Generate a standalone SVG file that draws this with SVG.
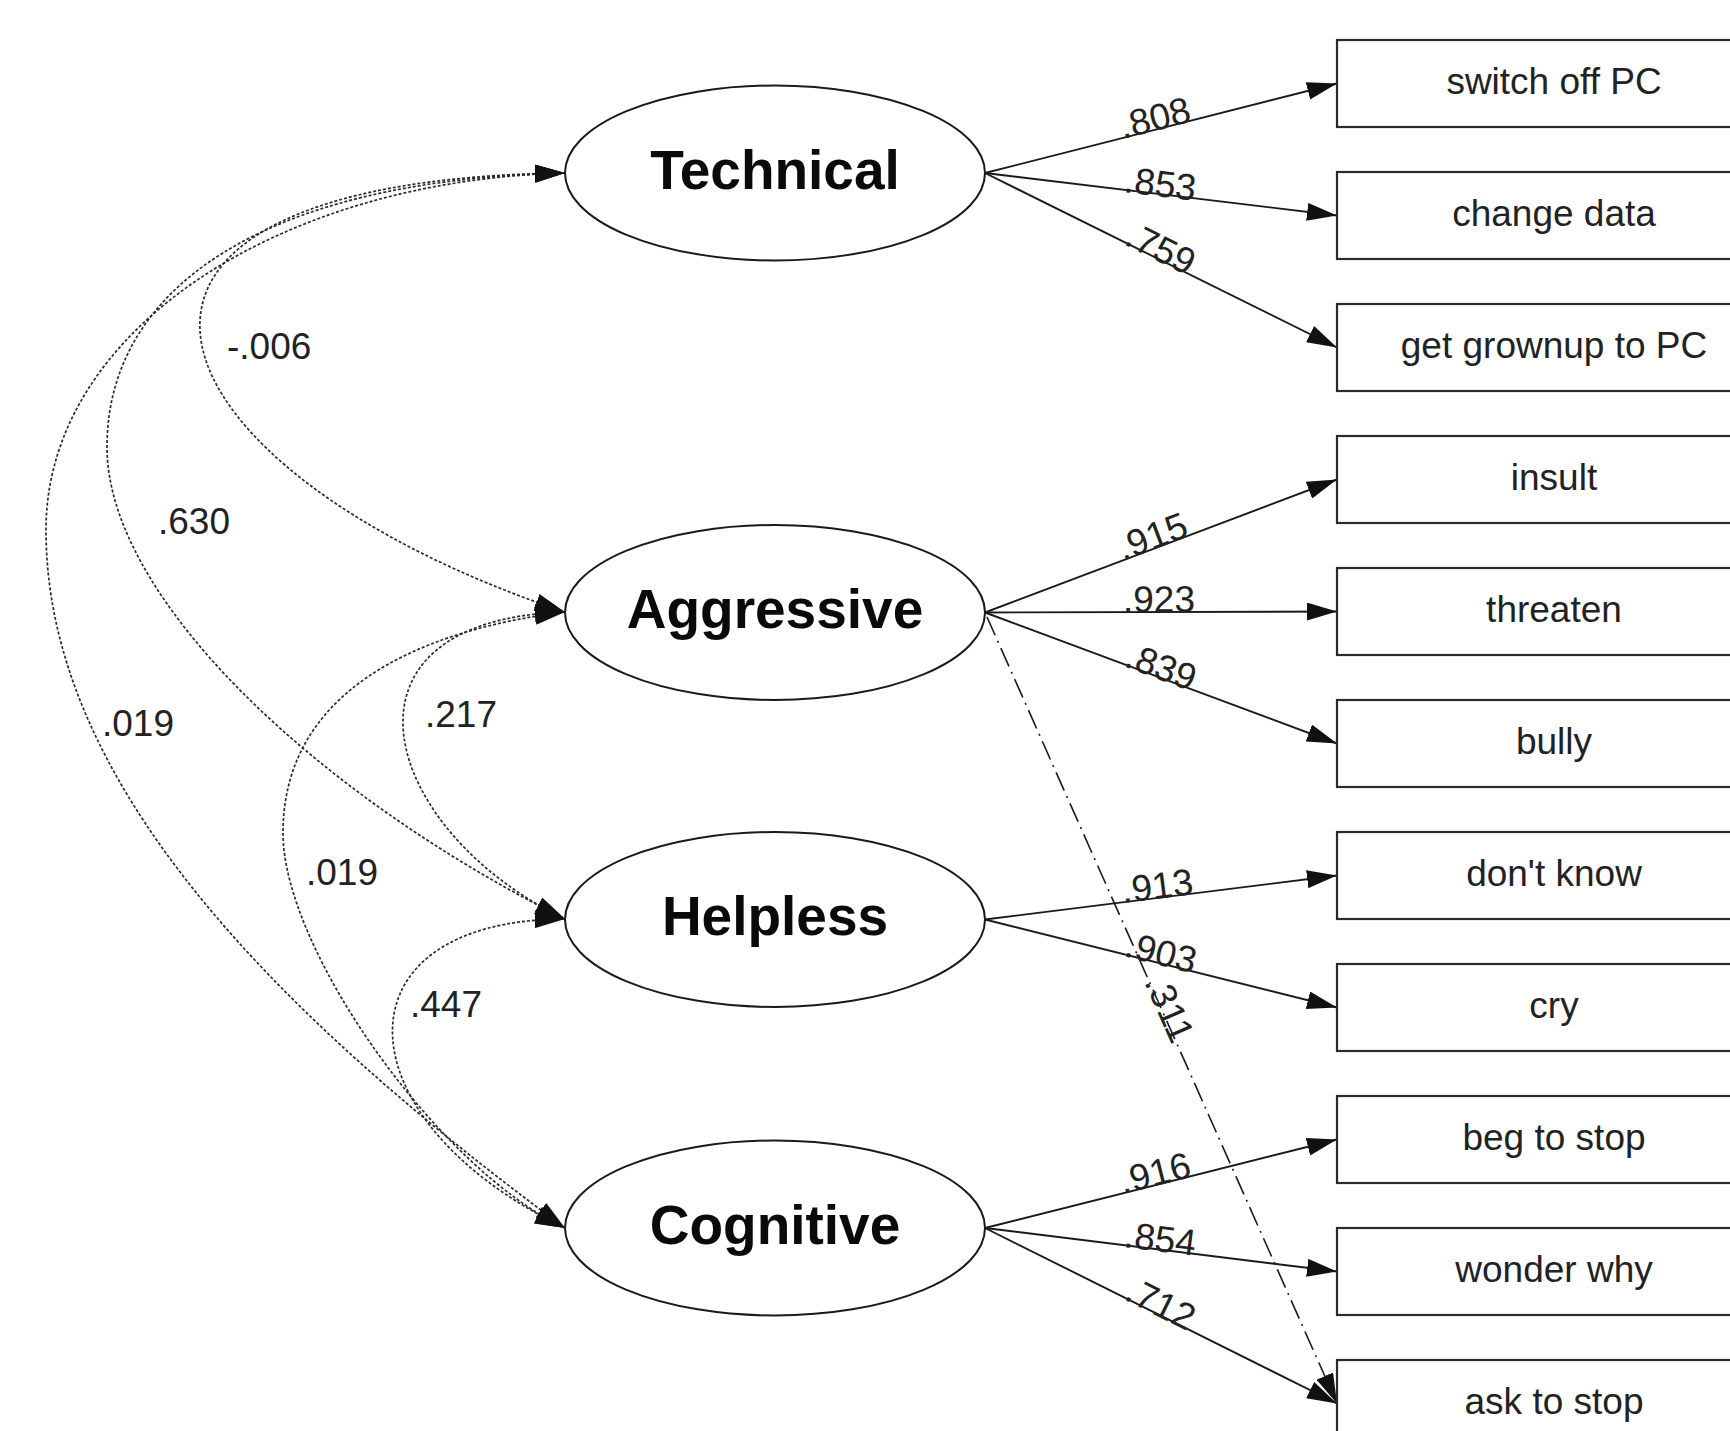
<svg xmlns="http://www.w3.org/2000/svg" width="1730" height="1431" viewBox="0 0 1730 1431">
<style>
.bg{fill:#ffffff}
.lat ellipse{fill:#ffffff;stroke:#1a1a1a;stroke-width:2}
.lat text{font-family:"Liberation Sans",Arial,sans-serif;font-weight:bold;font-size:55px;fill:#0a0a0a;text-anchor:middle}
.obs rect{fill:#ffffff;stroke:#2a2a2a;stroke-width:2.2}
.obs text{font-family:"Liberation Sans",Arial,sans-serif;font-size:37px;fill:#222222;text-anchor:middle}
.path{fill:none;stroke:#1a1a1a;stroke-width:1.9;marker-end:url(#ah)}
.cov{fill:none;stroke:#2a2a2a;stroke-width:1.7;stroke-dasharray:3 2;marker-start:url(#ah);marker-end:url(#ah)}
.dd{fill:none;stroke:#1a1a1a;stroke-width:1.6;stroke-dasharray:20 6 2 6;marker-end:url(#ah)}
.lbl{font-family:"Liberation Sans",Arial,sans-serif;font-size:37px;fill:#222222}
</style>
<defs>
<marker id="ah" viewBox="0 0 30 18" refX="30" refY="9" markerWidth="30" markerHeight="18" markerUnits="userSpaceOnUse" orient="auto-start-reverse">
<path d="M0,0 L30,9 L0,18 z" fill="#111111"/>
</marker>
</defs>
<rect class="bg" x="0" y="0" width="1730" height="1431"/>

<g id="connectors">
<path class="cov" d="M565,173 C20,180 140,470 565,612"/>
<path class="cov" d="M565,173 C260,180 107,290 107,447 C107,597 315,794 565,919"/>
<path class="cov" d="M565,173 C280,180 46,330 46,530 C46,780 270,1010 565,1228"/>
<path class="cov" d="M565,612 C320,620 380,830 565,919"/>
<path class="cov" d="M565,612 C420,630 283,690 283,833 C283,950 440,1170 565,1228"/>
<path class="cov" d="M565,919 C330,920 340,1120 565,1228"/>

<path class="path" d="M985,173 L1337,83.5"/>
<path class="path" d="M985,173 L1337,215.5"/>
<path class="path" d="M985,173 L1337,347.5"/>
<path class="path" d="M985,612.5 L1337,479.5"/>
<path class="path" d="M985,612.5 L1337,611.5"/>
<path class="path" d="M985,612.5 L1337,743.5"/>
<path class="path" d="M985,919.5 L1337,875.5"/>
<path class="path" d="M985,919.5 L1337,1007.5"/>
<path class="path" d="M985,1228 L1337,1139.5"/>
<path class="path" d="M985,1228 L1337,1271.5"/>
<path class="path" d="M985,1228 L1337,1403.5"/>
<path class="dd" d="M987,617 L1337,1403.5"/>

<text class="lbl" x="227" y="359">-.006</text>
<text class="lbl" x="158" y="534">.630</text>
<text class="lbl" x="102" y="736">.019</text>
<text class="lbl" x="425" y="727">.217</text>
<text class="lbl" x="306" y="885">.019</text>
<text class="lbl" x="410" y="1017">.447</text>

<text class="lbl" x="1123" y="139" transform="rotate(-14.27 1123 139)">.808</text>
<text class="lbl" x="1123" y="192" transform="rotate(6.88 1123 192)">.853</text>
<text class="lbl" x="1123" y="244" transform="rotate(26.37 1123 244)">.759</text>
<text class="lbl" x="1123" y="561" transform="rotate(-20.70 1123 561)">.915</text>
<text class="lbl" x="1123" y="612" transform="rotate(-0.16 1123 612)">.923</text>
<text class="lbl" x="1123" y="666" transform="rotate(20.41 1123 666)">.839</text>
<text class="lbl" x="1123" y="903" transform="rotate(-7.13 1123 903)">.913</text>
<text class="lbl" x="1123" y="956" transform="rotate(14.04 1123 956)">.903</text>
<text class="lbl" x="1123" y="1194" transform="rotate(-14.11 1123 1194)">.916</text>
<text class="lbl" x="1123" y="1247" transform="rotate(7.05 1123 1247)">.854</text>
<text class="lbl" x="1123" y="1299" transform="rotate(26.50 1123 1299)">.712</text>
<text class="lbl" x="1144" y="982" transform="rotate(66 1144 982)">.311</text>
</g>

<g id="technical" class="lat"><ellipse cx="775" cy="173" rx="210" ry="87.5"/><text x="775" y="189">Technical</text></g>
<g id="aggressive" class="lat"><ellipse cx="775" cy="612.5" rx="210" ry="87.5"/><text x="775" y="628">Aggressive</text></g>
<g id="helpless" class="lat"><ellipse cx="775" cy="919.5" rx="210" ry="87.5"/><text x="775" y="935">Helpless</text></g>
<g id="cognitive" class="lat"><ellipse cx="775" cy="1228" rx="210" ry="87.5"/><text x="775" y="1244">Cognitive</text></g>

<g id="switch-off-pc" class="obs"><rect x="1337" y="40" width="440" height="87"/><text x="1554" y="94">switch off PC</text></g>
<g id="change-data" class="obs"><rect x="1337" y="172" width="440" height="87"/><text x="1554" y="226">change data</text></g>
<g id="get-grownup" class="obs"><rect x="1337" y="304" width="440" height="87"/><text x="1554" y="358">get grownup to PC</text></g>
<g id="insult" class="obs"><rect x="1337" y="436" width="440" height="87"/><text x="1554" y="490">insult</text></g>
<g id="threaten" class="obs"><rect x="1337" y="568" width="440" height="87"/><text x="1554" y="622">threaten</text></g>
<g id="bully" class="obs"><rect x="1337" y="700" width="440" height="87"/><text x="1554" y="754">bully</text></g>
<g id="dont-know" class="obs"><rect x="1337" y="832" width="440" height="87"/><text x="1554" y="886">don't know</text></g>
<g id="cry" class="obs"><rect x="1337" y="964" width="440" height="87"/><text x="1554" y="1018">cry</text></g>
<g id="beg-to-stop" class="obs"><rect x="1337" y="1096" width="440" height="87"/><text x="1554" y="1150">beg to stop</text></g>
<g id="wonder-why" class="obs"><rect x="1337" y="1228" width="440" height="87"/><text x="1554" y="1282">wonder why</text></g>
<g id="ask-to-stop" class="obs"><rect x="1337" y="1360" width="440" height="87"/><text x="1554" y="1414">ask to stop</text></g>
</svg>
